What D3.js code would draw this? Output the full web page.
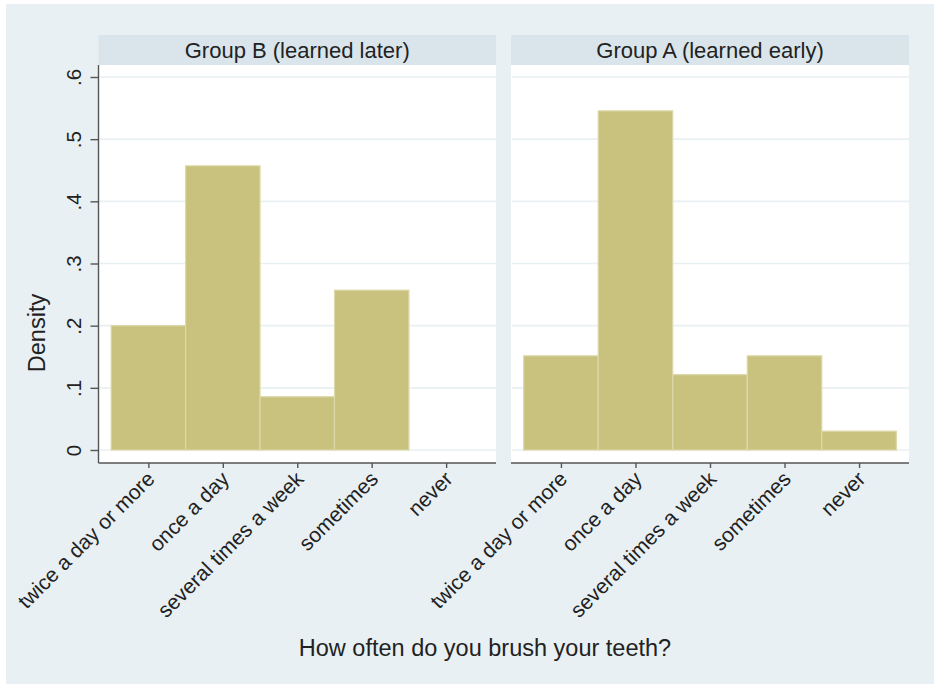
<!DOCTYPE html>
<html>
<head>
<meta charset="utf-8">
<script src="https://cdn.jsdelivr.net/npm/d3@7"></script>
<style>
  html, body { margin: 0; padding: 0; background: #ffffff; }
  svg { display: block; font-family: "Liberation Sans", Arial, Helvetica, sans-serif; }
</style>
</head>
<body>
<svg id="chart" width="934" height="684"></svg>
<script>
// Response categories (x codes 1..5)
const categories = ["twice a day or more", "once a day", "several times a week", "sometimes", "never"];
// Panel titles
const groups = ["Group B (learned later)", "Group A (learned early)"];
// Density of each response within a group
const densityB = [0.2, 0.4571, 0.0857, 0.2571, 0];
const densityA = [0.1515, 0.5455, 0.1212, 0.1515, 0.0303];
const yTicks = [0, 0.1, 0.2, 0.3, 0.4, 0.5, 0.6];
const yTickLabels = ["0", ".1", ".2", ".3", ".4", ".5", ".6"];
const xTitle = "How often do you brush your teeth?";
const yTitle = "Density";

const series = [densityB, densityA];

const svg = d3.select("#chart");
const W = 934, H = 684;

const C = {
  outer: "#e8f0f3",
  strip: "#d9e5eb",
  grid: "#e8f0f2",
  bar: "#c9c27e",
  barEdge: "#ddd8a8",
  axis: "#555555",
  text: "#222222"
};

// outer graph region
svg.append("rect").attr("x", 6).attr("y", 4).attr("width", W - 6).attr("height", H - 4).attr("fill", C.outer);

const panelTop = 65, panelBottom = 463, stripTop = 35;
const panels = [{ x0: 98.5, x1: 496 }, { x0: 511, x1: 909 }];

const y = d3.scaleLinear().domain([0, 0.6]).range([450, 77]);

panels.forEach((p, i) => {
  const x = d3.scaleLinear().domain([0.33, 5.67]).range([p.x0, p.x1]);
  const g = svg.append("g");

  // strip header
  g.append("rect").attr("x", p.x0).attr("y", stripTop)
    .attr("width", p.x1 - p.x0).attr("height", panelTop - stripTop).attr("fill", C.strip);
  g.append("text").attr("x", (p.x0 + p.x1) / 2).attr("y", 57.5)
    .attr("text-anchor", "middle").attr("font-size", 22).attr("fill", C.text)
    .text(groups[i]);

  // plot area
  g.append("rect").attr("x", p.x0).attr("y", panelTop)
    .attr("width", p.x1 - p.x0).attr("height", panelBottom - panelTop).attr("fill", "#ffffff");

  // horizontal grid
  g.selectAll("line.grid").data(yTicks).enter().append("line")
    .attr("x1", p.x0 + 1).attr("x2", p.x1)
    .attr("y1", d => y(d)).attr("y2", d => y(d))
    .attr("stroke", C.grid).attr("stroke-width", 1.6);

  // bars (bin width 1, centred on each category code)
  g.selectAll("rect.bar").data(series[i]).enter().append("rect")
    .filter(d => d > 0)
    .attr("x", (d, k) => x(k + 0.5))
    .attr("width", x(1.5) - x(0.5))
    .attr("y", d => y(d))
    .attr("height", d => y(0) - y(d))
    .attr("fill", C.bar)
    .attr("stroke", C.barEdge).attr("stroke-width", 1.2);

  // x axis
  const xAxis = d3.axisBottom(x).tickValues([1, 2, 3, 4, 5])
    .tickSize(5).tickFormat((d, k) => categories[k]);
  const ax = g.append("g").attr("transform", `translate(0,${panelBottom})`).call(xAxis);
  ax.select(".domain").attr("stroke", C.axis).attr("stroke-width", 1.4)
    .attr("d", `M${p.x0},0H${p.x1}`);
  ax.selectAll(".tick line").attr("stroke", C.axis).attr("stroke-width", 1.4);
  ax.selectAll(".tick text")
    .attr("font-size", 21).attr("fill", C.text)
    .attr("font-family", "Liberation Sans, Arial, sans-serif")
    .attr("text-anchor", "end")
    .attr("dy", "0.35em").attr("y", 0)
    .attr("transform", "translate(2,12) rotate(-45)");

  // y axis on the first panel only
  if (i === 0) {
    const yAxis = d3.axisLeft(y).tickValues(yTicks).tickSize(8)
      .tickFormat((d, k) => yTickLabels[k]);
    const ay = g.append("g").attr("transform", `translate(${p.x0},0)`).call(yAxis);
    ay.select(".domain").attr("stroke", C.axis).attr("stroke-width", 1.4)
      .attr("d", `M0,${panelTop}V${panelBottom}`);
    ay.selectAll(".tick line").attr("stroke", C.axis).attr("stroke-width", 1.4);
    ay.selectAll(".tick text")
      .attr("font-size", 20.5).attr("fill", C.text)
      .attr("font-family", "Liberation Sans, Arial, sans-serif")
      .attr("text-anchor", "middle")
      .attr("x", 0).attr("dy", 0)
      .attr("transform", "translate(-18,0) rotate(-90)");
  }
});

// axis titles
svg.append("text").attr("x", 485).attr("y", 656)
  .attr("text-anchor", "middle").attr("font-size", 23.5).attr("fill", C.text).text(xTitle);
svg.append("text").attr("transform", "translate(45,333) rotate(-90)")
  .attr("text-anchor", "middle").attr("font-size", 23.5).attr("fill", C.text).text(yTitle);
</script>
</body>
</html>
